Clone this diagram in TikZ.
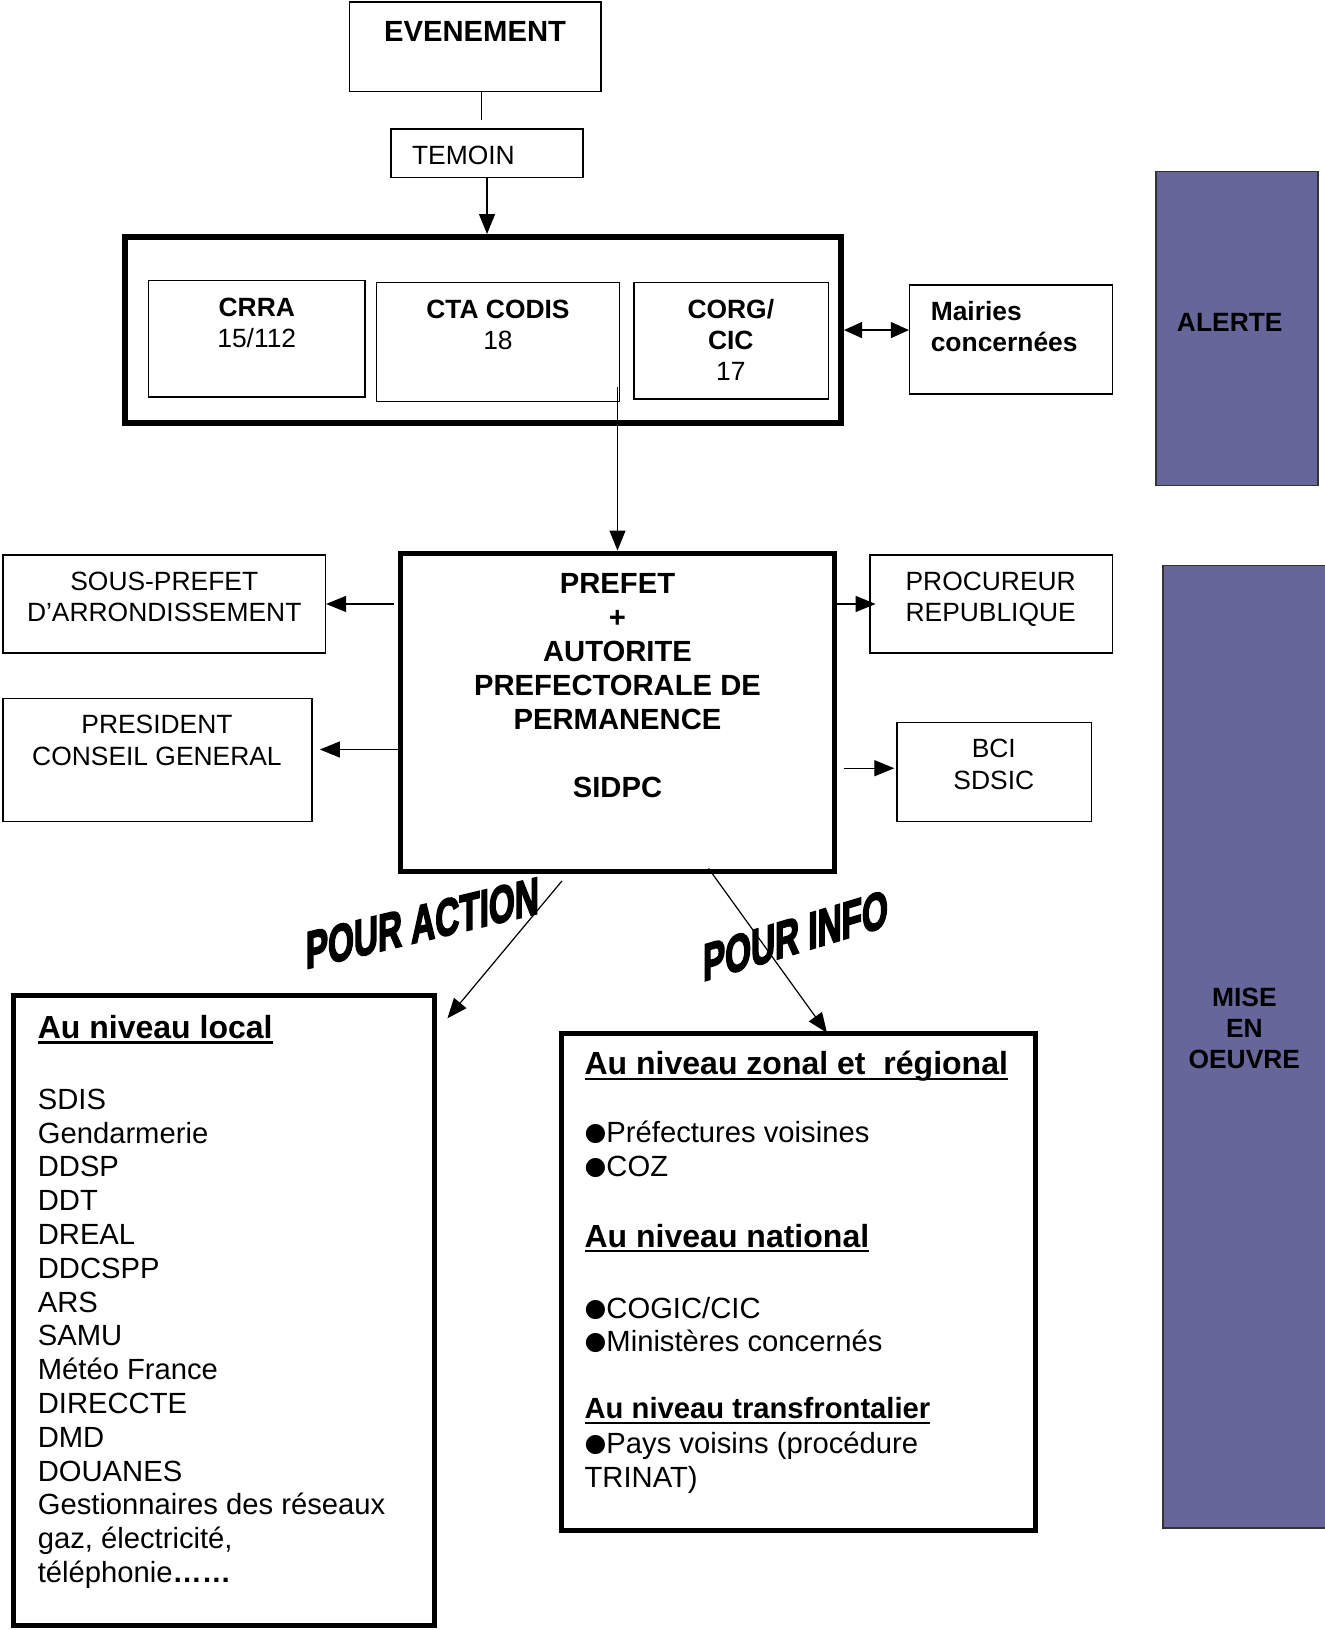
\documentclass[tikz,border=0pt]{standalone}
\usepackage{fontspec}
\setmainfont{Liberation Sans}
\newfontfamily\wafont{Liberation Sans}[BoldFeatures={FakeBold=4}]
\newfontfamily\dejavu{DejaVu Sans}
\usetikzlibrary{arrows.meta,fit,calc}
\definecolor{phase}{RGB}{102,102,154}
\newcommand\szA{\fontsize{14.6pt}{16.9pt}\selectfont}
\newcommand\szP{\fontsize{14.6pt}{17pt}\selectfont}
\newcommand\szB{\fontsize{13.2pt}{15.6pt}\selectfont}
\newcommand\szH{\fontsize{16pt}{19pt}\selectfont\bfseries}
\newcommand\bul{\raisebox{1pt}{\dejavu\fontsize{12.5pt}{14pt}\selectfont ●}}
\newcommand\ulin[1]{\setbox0\hbox{#1}\rlap{\vrule width\wd0 height -1.4pt depth 2.5pt}\box0}
\newcommand\colC[1]{\begin{tabular}[t]{@{}c@{}}#1\end{tabular}}
\newcommand\colL[1]{\begin{tabular}[t]{@{}l@{}}#1\end{tabular}}
\begin{document}
\begin{tikzpicture}[x=0.5196pt,y=-0.5196pt,
  box/.style={draw, line width=0.7pt, inner sep=0pt},
  bigbox/.style={draw, line width=3pt, inner sep=0pt},
  heavybox/.style={draw, line width=2.5pt, inner sep=0pt},
  phasebox/.style={draw=black!80, fill=phase, line width=0.8pt, inner sep=0pt},
  txt/.style={inner sep=0pt, anchor=base},
  txtl/.style={inner sep=0pt, anchor=base west},
  link/.style={line width=0.6pt},
  arr/.style={line width=0.6pt, -{Triangle[length=10pt,width=8pt]}},
  dbl/.style={line width=0.6pt, {Triangle[length=9pt,width=8pt]}-{Triangle[length=9pt,width=8pt]}},
  wordart/.style={inner sep=0pt, anchor=base west, font=\fontsize{26pt}{28pt}\selectfont\wafont\bfseries, xscale=0.64}
]
\useasboundingbox (0,0) rectangle (1274,1568);

% boxes
\node[box, fit={(336,2) (578,88)}] (ev) {};
\node[box, fit={(376,124) (561,171)}] (tem) {};
\node[bigbox, fit={(120,228) (809,407)}] (cent) {};
\node[box, fit={(143,270) (351,382)}] (crra) {};
\node[box, fit={(362,272) (596,386)}] (cta) {};
\node[box, fit={(610,272) (797,384)}] (corg) {};
\node[box, fit={(875,274) (1070,379)}] (mair) {};
\node[phasebox, fit={(1112,165) (1268,467)}] (alerte) {};
\node[heavybox, fit={(385,532) (803,838)}] (pref) {};
\node[box, fit={(3,534) (313,628)}] (sp) {};
\node[box, fit={(3,672) (300,790)}] (pres) {};
\node[box, fit={(837,534) (1070,628)}] (proc) {};
\node[box, fit={(863,695) (1050,790)}] (bci) {};
\node[phasebox, fit={(1119,544) (1276,1470)}] (mise) {};
\node[heavybox, fit={(13,958) (418,1564)}] (loc) {};
\node[heavybox, fit={(540,994) (996,1472)}] (nat) {};

% texts
\node[txt, font=\szA\bfseries] (tev) at (457,40) {EVENEMENT};
\node[txtl, font=\szB] (ttem) at (396,158) {TEMOIN};
\node[txt, font=\szB] (tcrra) at (247,304) {\colC{\textbf{CRRA}\\15/112}};
\node[txt, font=\szB] (tcta) at (479,306) {\colC{\textbf{CTA CODIS}\\18}};
\node[txt, font=\szB] (tcorg) at (703,306) {\colC{\textbf{CORG/}\\\textbf{CIC}\\17}};
\node[txtl, font=\szB\bfseries] (tmair) at (895,308) {\colL{Mairies\\concernées}};
\node[txt, font=\szB\bfseries] (talerte) at (1183,319) {ALERTE};
\node[txt, font=\szP\bfseries] (tpref) at (594,571) {\colC{PREFET\\+\\AUTORITE\\PREFECTORALE DE\\PERMANENCE\\ \\SIDPC}};
\node[txt, font=\szB] (tsp) at (158,568) {\colC{SOUS-PREFET\\D’ARRONDISSEMENT}};
\node[txt, font=\szB] (tpres) at (151,706) {\colC{PRESIDENT\\CONSEIL GENERAL}};
\node[txt, font=\szB] (tproc) at (953,568) {\colC{PROCUREUR\\REPUBLIQUE}};
\node[txt, font=\szB] (tbci) at (956,729) {\colC{BCI\\SDSIC}};
\node[txt, font=\szB\bfseries] (tmise) at (1197,968) {\colC{MISE\\EN\\OEUVRE}};

\node[txtl, font=\szH] (hloc) at (36,999) {\ulin{Au niveau local}};
\node[txtl, font=\szA] (lloc) at (36,1067) {\colL{SDIS\\Gendarmerie\\DDSP\\DDT\\DREAL\\DDCSPP\\ARS\\SAMU\\Météo France\\DIRECCTE\\DMD\\DOUANES\\Gestionnaires des réseaux\\gaz, électricité,\\téléphonie\textbf{……}}};

\node[txtl, font=\szH] (h1) at (562,1034) {\ulin{Au niveau zonal et\ \ régional}};
\node[txtl, font=\szA] (b1) at (562,1099) {\colL{\bul Préfectures voisines\\\bul COZ}};
\node[txtl, font=\szH] (h2) at (562,1200) {\ulin{Au niveau national}};
\node[txtl, font=\szA] (b2) at (562,1268) {\colL{\bul COGIC/CIC\\\bul Ministères concernés}};
\node[txtl, font=\szA\bfseries] (h3) at (562,1365) {\ulin{Au niveau transfrontalier}};
\node[txtl, font=\szA] (b3) at (562,1398) {\colL{\bul Pays voisins (procédure\\TRINAT)}};

\node[yslant=0.239, wordart] (wa1) at (294,932) {POUR ACTION};
\node[yslant=0.30, wordart] (wa2) at (676,944) {POUR INFO};

% connectors
\draw[link] ($(ev.south -| tem.north)+(-5,0)$) -- ($(tem.north)+(-5,-8)$);
\draw[arr] (tem.south) -- (tem.south |- cent.north);
\draw[arr] ($(pref.north |- cta.south)+(0,-14)$) -- (pref.north);
\draw[dbl] (cent.east) -- (cent.east -| mair.west);
\draw[arr] ($(pref.west |- sp.east)+(-4,0)$) -- (sp.east);
\draw[arr] (pref.west |- 0,721) -- ($(pres.east |- 0,721)+(7,0)$);
\draw[arr] ($(pref.east |- proc.west)+(-4,0)$) -- ($(proc.west)+(6,0)$);
\draw[arr] ($(pref.east |- 0,739)+(6,0)$) -- ($(bci.west |- 0,739)+(-2,0)$);
\draw[arr] ($(pref.south west)+(158,7)$) -- ($(loc.north east)+(10,24)$);
\draw[arr] ($(pref.south west)+(299,-5)$) -- ($(nat.north west)+(258,2)$);
\end{tikzpicture}
\end{document}
